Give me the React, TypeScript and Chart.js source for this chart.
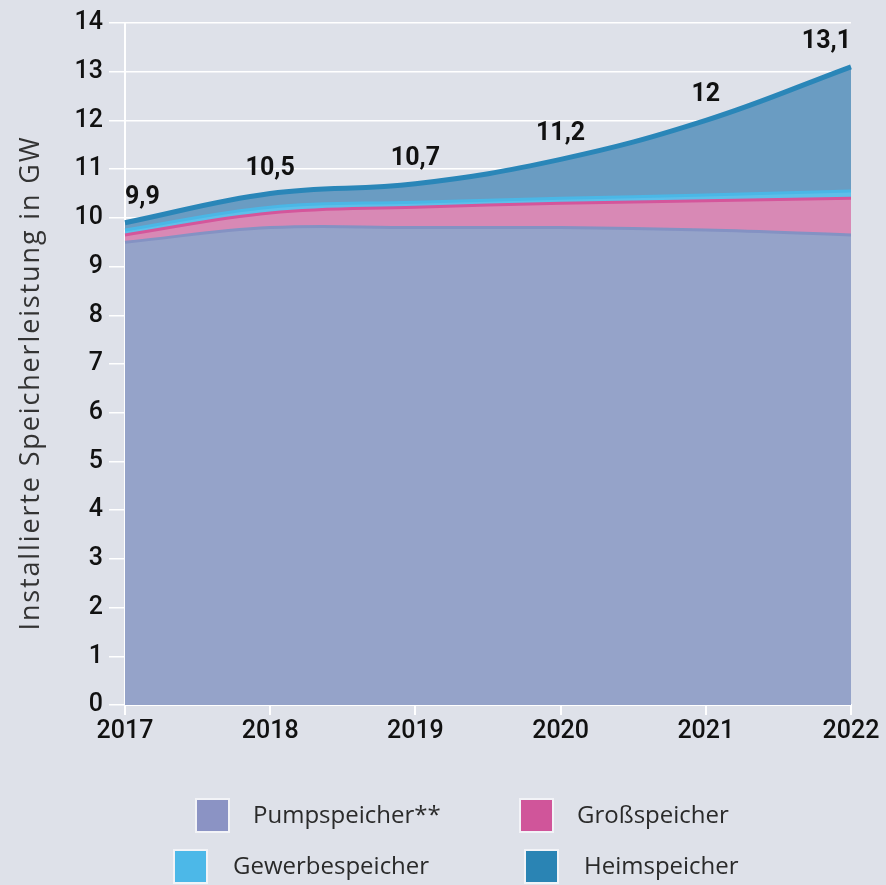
import React, { useEffect, useRef } from "react";
import { Chart, registerables } from "chart.js";

Chart.register(...registerables);

const years = ["2017", "2018", "2019", "2020", "2021", "2022"];
const pumpspeicher = [9.5, 9.8, 9.8, 9.8, 9.75, 9.65];
const grossspeicher = [0.15, 0.3, 0.42, 0.5, 0.6, 0.75];
const gewerbespeicher = [0.1, 0.12, 0.1, 0.1, 0.12, 0.15];
const heimspeicher = [0.15, 0.28, 0.38, 0.8, 1.53, 2.55];
const totalLabels = ["9,9", "10,5", "10,7", "11,2", "12", "13,1"];
const yTicks = [0, 1, 2, 3, 4, 5, 6, 7, 8, 9, 10, 11, 12, 13, 14];
const yTitle = "Installierte Speicherleistung in GW";

const seriesNames = ["Pumpspeicher**", "Großspeicher", "Gewerbespeicher", "Heimspeicher"];
const legendColors = ["#8b93c4", "#d0559a", "#4cb8e8", "#2a84b4"];

const BG = "#dee1e9";
const FONT = "Roboto, 'DejaVu Sans', sans-serif";
const TEXT_FONT = "'Open Sans', 'DejaVu Sans', sans-serif";

const totalLabelPlugin = {
  id: "totalLabels",
  afterDatasetsDraw(chart: any) {
    const meta = chart.getDatasetMeta(3);
    const ctx = chart.ctx;
    ctx.save();
    ctx.fillStyle = "#111";
    ctx.font = `bold 25px ${FONT}`;
    ctx.textBaseline = "alphabetic";
    const n = meta.data.length;
    meta.data.forEach((pt: any, i: number) => {
      ctx.textAlign = i === 0 ? "left" : i === n - 1 ? "right" : "center";
      ctx.fillText(totalLabels[i], pt.x, pt.y - 19);
    });
    ctx.restore();
  },
};

const titleAndLegendPlugin = {
  id: "titleAndLegend",
  afterDraw(chart: any) {
    const ctx = chart.ctx;
    ctx.save();
    // y axis title
    ctx.translate(31, 383);
    ctx.rotate(-Math.PI / 2);
    ctx.font = `27px ${TEXT_FONT}`;
    ctx.fillStyle = "#333";
    ctx.textAlign = "center";
    ctx.textBaseline = "middle";
    const w = ctx.measureText(yTitle).width;
    const target = 495;
    if ("letterSpacing" in ctx && w < target) {
      (ctx as any).letterSpacing = `${(target - w) / yTitle.length}px`;
    }
    ctx.fillText(yTitle, 0, 0);
    ctx.restore();

    const items = [
      { sx: 197, sy: 800, tx: 253 },
      { sx: 521, sy: 800, tx: 577 },
      { sx: 175, sy: 851, tx: 233 },
      { sx: 526, sy: 851, tx: 584 },
    ];
    ctx.save();
    ctx.font = `24px ${TEXT_FONT}`;
    ctx.textBaseline = "middle";
    ctx.textAlign = "left";
    items.forEach((it, i) => {
      ctx.fillStyle = "#f2f3f7";
      ctx.fillRect(it.sx - 2, it.sy - 2, 35, 35);
      ctx.fillStyle = legendColors[i];
      ctx.fillRect(it.sx, it.sy, 31, 31);
      ctx.fillStyle = "#2a2a2a";
      ctx.fillText(seriesNames[i], it.tx, it.sy + 16);
    });
    ctx.restore();
  },
};

export default function App() {
  const ref = useRef<HTMLCanvasElement | null>(null);

  useEffect(() => {
    if (!ref.current) return;
    const chart = new Chart(ref.current, {
      type: "line",
      data: {
        labels: years,
        datasets: [
          {
            label: seriesNames[0],
            data: pumpspeicher,
            backgroundColor: "#95a3c9",
            borderColor: "#8492c3",
            borderWidth: 3,
            fill: "origin",
            pointRadius: 0,
            tension: 0.4,
          },
          {
            label: seriesNames[1],
            data: grossspeicher,
            backgroundColor: "#d889b5",
            borderColor: "#d4569b",
            borderWidth: 3,
            fill: "-1",
            pointRadius: 0,
            tension: 0.4,
          },
          {
            label: seriesNames[2],
            data: gewerbespeicher,
            backgroundColor: "#5ebfe9",
            borderColor: "#4ab7e6",
            borderWidth: 3,
            fill: "-1",
            pointRadius: 0,
            tension: 0.4,
          },
          {
            label: seriesNames[3],
            data: heimspeicher,
            backgroundColor: "#6a9cc2",
            borderColor: "#2a86b8",
            borderWidth: 5,
            fill: "-1",
            pointRadius: 0,
            tension: 0.4,
          },
        ],
      },
      options: {
        responsive: false,
        animation: false,
        layout: { padding: { top: 23, right: 35, bottom: 135, left: 0 } },
        plugins: {
          legend: { display: false },
          tooltip: { enabled: false },
        },
        scales: {
          x: {
            offset: false,
            afterFit(scale: any) {
              scale.height = 45;
            },
            grid: {
              display: true,
              drawOnChartArea: false,
              color: "#ffffff",
              lineWidth: 2,
              tickLength: 10,
            },
            border: { display: true, color: "#ffffff", width: 2 },
            ticks: {
              color: "#111",
              font: { family: FONT, size: 25, weight: 500 },
              padding: 2,
              maxRotation: 0,
            },
          },
          y: {
            stacked: true,
            min: 0,
            max: 14,
            afterFit(scale: any) {
              scale.width = 125;
            },
            afterBuildTicks(axis: any) {
              axis.ticks = yTicks.map((v) => ({ value: v }));
            },
            grid: {
              color: "#ffffff",
              lineWidth: 1.5,
              tickLength: 16,
            },
            border: { display: true, color: "#ffffff", width: 2 },
            ticks: {
              color: "#111",
              font: { family: FONT, size: 25, weight: 500 },
              padding: 6,
            },
          },
        },
      },
      plugins: [totalLabelPlugin, titleAndLegendPlugin],
    });
    return () => chart.destroy();
  }, []);

  return (
    <div style={{ position: "absolute", left: 0, top: 0, width: 886, height: 885, background: BG }}>
      <canvas ref={ref} width={886} height={885} />
    </div>
  );
}
